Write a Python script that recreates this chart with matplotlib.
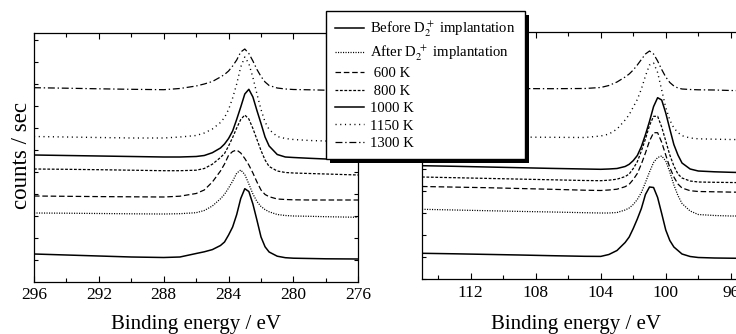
import matplotlib
matplotlib.use('Agg')
import matplotlib.pyplot as plt
from matplotlib.ticker import MultipleLocator, NullFormatter
from matplotlib.patches import Rectangle

plt.rcParams['font.family'] = ['Liberation Serif', 'DejaVu Serif']
plt.rcParams['mathtext.fontset'] = 'stix'
plt.rcParams['lines.scale_dashes'] = False

# ---------------- data (binding energy in eV, intensity in arbitrary offset units) ----------------
E_C = [296, 294, 292, 290, 288, 287, 286, 285.5, 285, 284.5, 284.25, 284, 283.75, 283.5, 283.25,
       283, 282.75, 282.5, 282.25, 282, 281.75, 281.5, 281, 280.5, 280, 279, 278, 277, 276]

before_C = [28, 27, 26, 25, 24.5, 25, 28.5, 30.2, 32.4, 36.5, 40, 47, 55, 67.4, 83.5,
            93.3, 90.5, 78, 61.8, 45, 35.2, 30, 25.8, 24.3, 23.8, 23.5, 23.2, 23.1, 23]
after_C = [69, 68.8, 68.5, 68.2, 68, 68.3, 69.3, 71.5, 76, 83.2, 87.7, 94, 100.8, 108.8, 112,
           107.5, 98, 88, 80.5, 75.5, 72.4, 70.2, 67.5, 66.5, 66, 65.7, 65.3, 65, 64.7]
k600_C = [86, 85.7, 85.4, 85.2, 85, 85.8, 88.5, 92, 100, 111, 118, 126.7, 130.5, 132, 129,
          123.5, 117, 109, 100, 92, 87.5, 85.3, 83, 82.5, 82.2, 82, 82, 82, 82]
k800_C = [113, 112.7, 112.3, 111.8, 111.3, 111.3, 111.8, 113.5, 117.8, 124.5, 128.5, 136, 144.5, 154, 162.5,
          167, 163, 153.5, 142.5, 131.5, 122, 115.5, 111, 109.5, 109, 108.5, 108, 107.5, 107]
k1000_C = [127, 126.5, 126, 125.5, 125, 125, 125.5, 126.5, 129.3, 134, 138, 143.5, 151, 162.6, 175,
           188, 192.7, 185, 171.4, 158.5, 145, 136, 127.5, 125, 124.5, 123.7, 123, 122.4, 122]
k1150_C = [145.5, 145, 144.5, 144, 144, 145, 146.5, 149, 153, 159.5, 164.5, 172.5, 184, 198, 215,
           225, 218.4, 204.5, 188, 172.5, 160, 152.5, 145.5, 143.5, 142.5, 141.5, 141, 140.5, 140]
k1300_C = [194.3, 193.8, 193.2, 192.7, 192.3, 193.5, 196, 198, 200.5, 205, 207.5, 211, 216, 222, 230,
           233, 228.5, 221, 212.5, 205.5, 200, 196.5, 194, 193, 192.5, 192.2, 191.8, 191.5, 191.3]

E_Si = [115, 113, 111, 109, 107, 105, 104, 103.5, 103, 102.5, 102.25, 102, 101.75, 101.5, 101.25,
        101, 100.75, 100.5, 100.25, 100, 99.75, 99.5, 99.25, 99, 98.5, 98, 97, 96, 95]

before_Si = [25.7, 25.2, 24.6, 24, 23.3, 22.7, 22.6, 24.5, 28.5, 36.5, 42, 50.5, 60, 70.5, 84.5,
             92, 91.5, 81.5, 65.5, 49, 38.5, 32, 28.5, 25, 22.5, 21.5, 21, 20.8, 20.6]
after_Si = [69.7, 69, 68.3, 67.6, 67, 66.3, 66, 66, 66.5, 69, 71, 74.5, 79.5, 86.5, 96.5,
            107, 116.5, 121.5, 123, 118, 107, 94, 83.5, 75.5, 68, 64.5, 63.5, 63, 63]
k600_Si = [92.5, 91.9, 91.3, 90.5, 89.7, 88.8, 88.5, 89, 89.8, 92.3, 94.7, 99.5, 105.5, 115, 126,
           138, 146.3, 146.3, 136.7, 124, 111.5, 102, 95, 91, 88.3, 87.5, 87.2, 86.9, 86.7]
k800_Si = [102, 101.3, 100.6, 99.9, 99.2, 98.5, 98.3, 98.8, 99.8, 102.4, 105, 110.5, 117.3, 128, 140,
           153.5, 162.7, 162.7, 152, 138, 124, 113, 105, 101, 98, 97, 96.7, 96.5, 96.3]
k1000_Si = [113.3, 112.7, 112, 111.3, 110.6, 110, 109.7, 110, 110.5, 112.5, 114.7, 118.4, 123.5, 132.4, 144.3,
            157.6, 172.4, 181.3, 179, 166, 150, 134.4, 124, 116, 110, 108, 107.2, 106.7, 106.3]
k1150_Si = [142.5, 142.3, 142.1, 141.9, 141.7, 141.5, 143, 144.9, 149.9, 159, 164.3, 172, 179.5, 190, 203,
            214, 216, 206.5, 189, 171.5, 159, 151, 146.5, 143.3, 141, 140.2, 139.8, 139.5, 139.3]
k1300_Si = [190.7, 190.6, 190.5, 190.4, 190.3, 190.5, 191.5, 193.5, 197, 202, 205, 209, 214, 219.5, 225,
            228, 225, 218, 209.5, 202, 196.5, 193, 191, 190, 189.5, 189.2, 189, 188.5, 188.3]

labels = [r"Before D$_2^+$ implantation", r"After D$_2^{\ +}$ implantation",
          " 600 K", " 800 K", "1000 K", "1150 K", "1300 K"]

# ---------------- styles ----------------
styles = [
    dict(ls='-', lw=1.1),
    dict(ls=(0, (0.8, 1.0)), lw=0.9),
    dict(ls=(0, (4, 2)), lw=0.9),
    dict(ls=(0, (2, 1.2)), lw=0.9),
    dict(ls='-', lw=1.1),
    dict(ls=(0, (0.8, 2.6)), lw=1.0),
    dict(ls=(0, (5, 2, 1, 2)), lw=0.9),
]

W, H = 736, 334
fig = plt.figure(figsize=(W / 100, H / 100), dpi=100)


def rect(x0, y0, x1, y1):
    return [x0 / W, 1 - y1 / H, (x1 - x0) / W, (y1 - y0) / H]


axL = fig.add_axes(rect(34, 33.3, 358.3, 281.7))
axR = fig.add_axes(rect(422, 32.3, 747, 279))

curves_C = [before_C, after_C, k600_C, k800_C, k1000_C, k1150_C, k1300_C]
curves_Si = [before_Si, after_Si, k600_Si, k800_Si, k1000_Si, k1150_Si, k1300_Si]

handles = []
for ys, st, lab in zip(curves_C, styles, labels):
    h, = axL.plot(E_C, ys, color='black', label=lab, **st)
    handles.append(h)
for ys, st in zip(curves_Si, styles):
    axR.plot(E_Si, ys, color='black', **st)

axL.set_xlim(296, 276)
axL.set_ylim(0.3, 248.7)
axR.set_xlim(115, 95)
axR.set_ylim(0, 246.7)

for ax in (axL, axR):
    ax.xaxis.set_major_locator(MultipleLocator(4))
    ax.xaxis.set_minor_locator(MultipleLocator(2))
    ax.yaxis.set_major_locator(MultipleLocator(22))
    ax.yaxis.set_major_formatter(NullFormatter())
    ax.tick_params(axis='both', which='both', direction='in', top=True, right=True,
                   width=0.8, labelsize=12.5, pad=4)
    ax.tick_params(axis='x', which='major', length=4)
    ax.tick_params(axis='x', which='minor', length=3)
    ax.tick_params(axis='y', which='major', length=3)
    for sp in ax.spines.values():
        sp.set_linewidth(0.9)

axL.set_xlabel('Binding energy / eV', fontsize=15)
axL.xaxis.set_label_coords(0.5, -0.134)
axR.set_xlabel('Binding energy / eV', fontsize=15)
axR.xaxis.set_label_coords(0.474, -0.146)
axL.set_ylabel('counts / sec', fontsize=16.5)
axL.yaxis.set_label_coords(-0.005, 0.51)

leg = fig.legend(handles, labels, loc='upper left', bbox_to_anchor=(326 / W, 1 - 11 / H),
                 bbox_transform=fig.transFigure, borderaxespad=0, fontsize=10.6, frameon=True,
                 fancybox=False, edgecolor='black', facecolor='white', framealpha=1,
                 handlelength=2.0, handletextpad=0.4, labelspacing=0.28, borderpad=0.6)
leg.get_frame().set_linewidth(1.0)
leg.set_zorder(6)

fig.canvas.draw()
bb = leg.get_window_extent()
shadow = Rectangle(((bb.x0 + 4) / W, (bb.y0 - 4) / H), bb.width / W, bb.height / H,
                   transform=fig.transFigure, facecolor='black', edgecolor='none', zorder=5)
fig.add_artist(shadow)

fig.savefig('out.png', dpi=100)
